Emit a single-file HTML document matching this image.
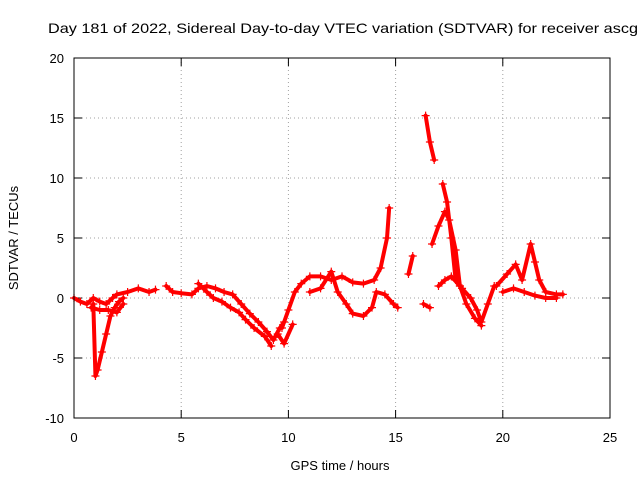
<!DOCTYPE html>
<html><head><meta charset="utf-8"><style>
body{margin:0;background:#fff}
svg text{font-family:"Liberation Sans",sans-serif;font-size:13px;fill:#000}
</style></head><body>
<svg id="c" width="640" height="480">
<rect width="640" height="480" fill="#fff"/>
<text x="48" y="33" textLength="590" lengthAdjust="spacingAndGlyphs" style="font-size:14px">Day 181 of 2022, Sidereal Day-to-day VTEC variation (SDTVAR) for receiver ascg</text>
<g id="grid"></g><g id="ticks"></g><g id="marks"></g>
<rect x="74" y="58" width="536" height="360" fill="none" stroke="#000"/>
<text x="340" y="470" text-anchor="middle">GPS time / hours</text>
<text transform="translate(18,238) rotate(-90)" text-anchor="middle">SDTVAR / TECUs</text>
</svg>
<script>
const xTicks=[0,5,10,15,20,25];
const yTicks=[-10,-5,0,5,10,15,20];
const traceA=[[0.9,-0.5],[1.0,-6.5],[1.1,-6],[1.3,-4.5],[1.5,-3],[1.7,-1.5],[1.9,-0.8],[2.1,-0.3],[2.3,0]];
const traceB=[[0,0],[0.3,-0.3],[0.6,-0.5],[0.9,0],[1.2,-0.3],[1.5,-0.5],[1.8,0],[2,0.3],[2.5,0.5],[3,0.8],[3.5,0.5],[3.8,0.7]];
const traceC=[[0.8,-0.8],[1.2,-1],[1.6,-1],[2,-1.2],[2.3,-0.5]];
const traceD=[[4.3,1],[4.6,0.5],[5,0.4],[5.5,0.3],[5.8,0.8],[6.2,1],[6.6,0.8],[7,0.5],[7.4,0.3],[7.8,-0.5],[8.2,-1.3],[8.6,-2],[9,-2.8],[9.3,-3.5],[9.6,-2.5],[9.8,-2]];
const traceE=[[5.8,1.2],[6.2,0.5],[6.5,0],[6.9,-0.3],[7.3,-0.8],[7.7,-1.2],[8,-1.8],[8.4,-2.5],[8.9,-3.2],[9.2,-4]];
const traceF=[[9.7,-2.5],[10,-1],[10.3,0.5],[10.6,1.2],[11,1.8],[11.5,1.8],[12,1.5],[12.5,1.8],[13,1.3],[13.5,1.2],[14,1.5],[14.3,2.5],[14.6,5],[14.7,7.5]];
const traceG=[[11,0.5],[11.5,0.8],[12,2.2],[12.3,0.5],[12.7,-0.5],[13,-1.3],[13.5,-1.5],[13.9,-0.8],[14.1,0.5],[14.5,0.3],[14.9,-0.5],[15.1,-0.8]];
const traceH=[[15.6,2],[15.8,3.5]];
const traceI=[[16.3,-0.5],[16.6,-0.8]];
const traceI2=[[16.4,15.2],[16.6,13],[16.8,11.5]];
const traceJ=[[16.7,4.5],[17,6],[17.3,7.2],[17.5,6.5],[17.8,4],[18,1],[18.3,-0.5],[18.7,-1.7],[19,-2.3]];
const traceK=[[17.2,9.5],[17.4,8],[17.6,5],[17.8,1.5],[18.1,0.8],[18.5,0],[18.8,-1],[19,-2],[19.3,-0.5],[19.6,1]];
const traceL=[[17,1],[17.3,1.5],[17.6,1.8],[18,1]];
const traceM=[[19.7,1],[20.2,2],[20.6,2.8],[20.9,1.5],[21.3,4.5],[21.5,3],[21.7,1.5],[22,0.5],[22.5,0.3],[22.8,0.3]];
const traceN=[[20,0.5],[20.5,0.8],[21,0.5],[21.5,0.2],[22,0],[22.5,0]];
const traceO=[[9.5,-3],[9.8,-3.8],[10.2,-2.2]];
const traces=[traceA,traceB,traceC,traceD,traceE,traceF,traceG,traceH,traceI,traceI2,traceJ,traceK,traceL,traceM,traceN,traceO];

const NS="http://www.w3.org/2000/svg";
const X=t=>74+t*536/25, Y=v=>418-(v+10)*12;
function mk(tag,attrs,parent){const e=document.createElementNS(NS,tag);for(const k in attrs)e.setAttribute(k,attrs[k]);parent.appendChild(e);return e;}
const grid=document.getElementById('grid'),ticks=document.getElementById('ticks'),marks=document.getElementById('marks');
xTicks.forEach(t=>{
 if(t>0&&t<25){const g=mk('line',{x1:X(t),x2:X(t),y1:58,y2:418,stroke:'#a0a0a0','stroke-dasharray':'1,3'},grid);
 
 }
 mk('line',{x1:X(t),x2:X(t),y1:418,y2:410,stroke:'#000'},ticks);
 mk('line',{x1:X(t),x2:X(t),y1:58,y2:66,stroke:'#000'},ticks);
 const l=mk('text',{x:X(t),y:442,'text-anchor':'middle'},ticks);l.textContent=t;
 
 
});
yTicks.forEach(v=>{
 if(v>-10&&v<20){const g=mk('line',{x1:74,x2:610,y1:Y(v),y2:Y(v),stroke:'#a0a0a0','stroke-dasharray':'1,3'},grid);
 
 }
 mk('line',{x1:74,x2:82,y1:Y(v),y2:Y(v),stroke:'#000'},ticks);
 mk('line',{x1:610,x2:602,y1:Y(v),y2:Y(v),stroke:'#000'},ticks);
 const l=mk('text',{x:64,y:Y(v)+5,'text-anchor':'end'},ticks);l.textContent=v;
 
 
});
traces.forEach(tr=>{
 const p=mk('polyline',{points:tr.map(d=>X(d[0])+','+Y(d[1])).join(' '),fill:'none',stroke:'#f00','stroke-width':4,'stroke-linejoin':'round','stroke-linecap':'round'},marks);
 
 
 tr.forEach(d=>{
  const m=mk('path',{d:`M${X(d[0])-4},${Y(d[1])}h8M${X(d[0])},${Y(d[1])-4}v8`,stroke:'#f00','stroke-width':1.2},marks);
  
  
 });
});
</script>
</body></html>
